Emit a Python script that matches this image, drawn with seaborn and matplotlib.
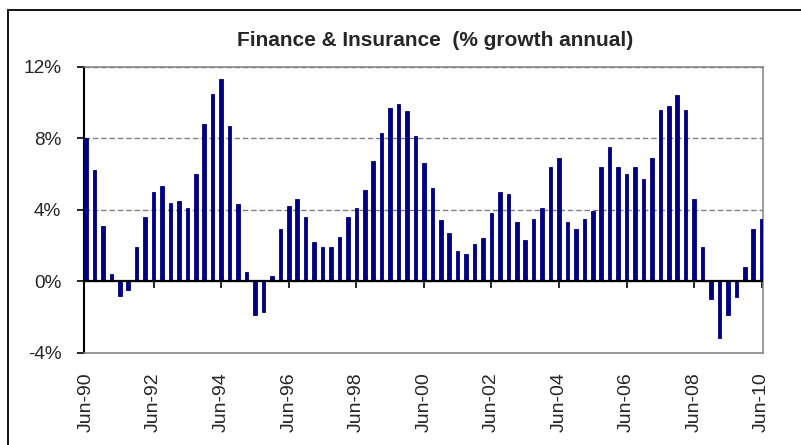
import matplotlib
matplotlib.use("Agg")
import matplotlib.pyplot as plt
from matplotlib.patches import Rectangle
import seaborn as sns
import pandas as pd

# Quarterly annual growth, Finance & Insurance, Jun-90 .. Jun-10 (%)
quarters = []
for yr in range(1990, 2011):
    for mon in ["Mar", "Jun", "Sep", "Dec"]:
        quarters.append(f"{mon}-{yr % 100:02d}")
quarters = quarters[quarters.index("Jun-90"):quarters.index("Jun-10") + 1]

growth = [
    8.0, 6.2, 3.1, 0.4, -0.8, -0.5, 1.9, 3.6,
    5.0, 5.3, 4.4, 4.5, 4.1, 6.0, 8.8, 10.5,
    11.3, 8.7, 4.3, 0.5, -1.9, -1.7, 0.3, 2.9,
    4.2, 4.6, 3.6, 2.2, 1.9, 1.9, 2.5, 3.6,
    4.1, 5.1, 6.7, 8.3, 9.7, 9.9, 9.5, 8.1,
    6.6, 5.2, 3.4, 2.7, 1.7, 1.5, 2.1, 2.4,
    3.8, 5.0, 4.9, 3.3, 2.3, 3.5, 4.1, 6.4,
    6.9, 3.3, 2.9, 3.5, 3.9, 6.4, 7.5, 6.4,
    6.0, 6.4, 5.7, 6.9, 9.6, 9.8, 10.4, 9.6,
    4.6, 1.9, -1.0, -3.2, -1.9, -0.9, 0.8, 2.9,
    3.5,
]

y_ticks = [-4, 0, 4, 8, 12]
y_tick_labels = ["-4%", "0%", "4%", "8%", "12%"]
label_step = 8
title = "Finance & Insurance  (% growth annual)"

df = pd.DataFrame({"quarter": quarters, "growth": growth})

sns.set_style("white")
plt.rcParams["font.family"] = ["Liberation Sans", "DejaVu Sans"]

fig = plt.figure(figsize=(8.01, 4.45), dpi=100)
ax = fig.add_axes([83.5 / 801, 92.3 / 445, 679.2 / 801, 286 / 445])

sns.barplot(data=df, x="quarter", y="growth", color="#000080",
            saturation=1, width=0.42, ax=ax, zorder=3, linewidth=0.6,
            edgecolor="#000080")

n = len(quarters)
ax.set_xlim(-0.3, n - 1 + 0.12)
ax.set_ylim(y_ticks[0], y_ticks[-1])
ax.set_xlabel("")
ax.set_ylabel("")

# y axis
ax.set_yticks(y_ticks)
ax.set_yticklabels(y_tick_labels, fontsize=13.7)
ax.tick_params(axis="y", direction="out", length=5, width=1.2,
               color="black", pad=11, left=True)

# category labels along the bottom edge
label_pos = list(range(0, n, label_step))
ax.set_xticks(label_pos)
ax.set_xticklabels([quarters[i] for i in label_pos], rotation=90,
                   fontsize=14, va="top", ha="center")
ax.tick_params(axis="x", length=0, pad=14)

# frame
for side in ["top", "right", "bottom"]:
    ax.spines[side].set_color("#808080")
    ax.spines[side].set_linewidth(1.1)
ax.spines["left"].set_color("black")
ax.spines["left"].set_linewidth(1.5)

# dashed horizontal gridlines
ax.set_axisbelow(True)
ax.yaxis.grid(True, linestyle=(0, (4, 2)), color="#808080", linewidth=1.0)
ax.xaxis.grid(False)

# zero axis line with category tick marks
ax.axhline(0, color="black", linewidth=1.6, zorder=4)
zero_frac = (0 - y_ticks[0]) / (y_ticks[-1] - y_ticks[0])
zax = ax.secondary_xaxis(zero_frac)
zax.spines["bottom"].set_visible(False)
zax.set_xticks(label_pos[1:])
zax.set_xticklabels([])
zax.tick_params(axis="x", direction="out", length=5, width=1.2, color="black")

fig.text(435 / 801, 1 - 40 / 445, title, ha="center", va="center",
         fontsize=15, fontweight="bold")

# outer chart border
fig.patches.append(Rectangle((8 / 801, -0.05), 1.0, 1 - 10 / 445 + 0.05,
                             transform=fig.transFigure, fill=False,
                             edgecolor="black", linewidth=1.3))

fig.savefig("out.png", dpi=100)
